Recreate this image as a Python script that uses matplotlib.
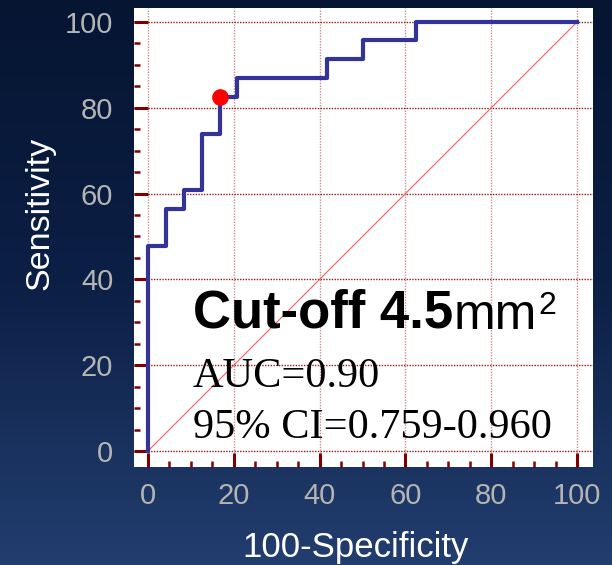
import numpy as np
import matplotlib
matplotlib.use("Agg")
import matplotlib.pyplot as plt
from matplotlib.colors import LinearSegmentedColormap

# ROC curve (23 positives, 24 negatives)
fpr = [0, 0, 4.17, 8.33, 12.5, 16.67, 20.83, 41.67, 50.0, 62.5, 100]
tpr = [0, 47.8, 56.5, 60.9, 73.9, 82.6, 87.0, 91.3, 95.7, 100, 100]
cut_x, cut_y = 16.67, 82.6
ticks = [0, 20, 40, 60, 80, 100]
minor = [v for v in range(0, 101, 5) if v % 20]

plt.rcParams['font.family'] = ['Liberation Sans', 'DejaVu Sans']

fig = plt.figure(figsize=(6.12, 5.65), dpi=100)

# gradient background
bg = fig.add_axes([0, 0, 1, 1], zorder=-10)
cmap = LinearSegmentedColormap.from_list('bg', ['#051532', '#0c1f45', '#223e6f'])
bg.imshow(np.linspace(0, 1, 256).reshape(-1, 1), aspect='auto', cmap=cmap,
          extent=[0, 1, 0, 1])
bg.axis('off')

ax = fig.add_axes([134/612, 98/565, 459/612, 459/565])
ax.set_facecolor('white')
ax.set_xlim(-3.26, 103.7)
ax.set_ylim(-3.73, 103.26)
for s in ax.spines.values():
    s.set_color('none')

ax.set_xticks(ticks)
ax.set_yticks(ticks)
ax.set_xticks(minor, minor=True)
ax.set_yticks(minor, minor=True)
ax.tick_params(which='major', direction='in', length=10, width=2.2, color='#800000',
               labelsize=21, labelcolor='#b4b4b4', pad=15)
ax.tick_params(which='minor', direction='in', length=4.3, width=1.8, color='#800000')
ax.tick_params(axis='x', which='major', pad=10.5)

ax.xaxis.grid(True, color='#a03030', linestyle=(0, (1, 1)), linewidth=1, alpha=0.55)
ax.yaxis.grid(True, color='#8b0000', linestyle=(0, (1, 1)), linewidth=1, alpha=0.9)

ax.plot([0, 100], [0, 100], color='#ff5a5a', linewidth=0.8)
ax.plot(fpr, tpr, drawstyle='steps-post', color='#333399', linewidth=3, zorder=3)
ax.plot([cut_x], [cut_y], 'o', color='red', markersize=11, zorder=4)

t1 = ax.text(10.5, 28.7, 'Cut-off 4.5', fontsize=38, fontweight='bold',
             va='baseline', ha='left', color='black')
t2 = ax.annotate('mm', xy=(1, 0), xycoords=t1, va='bottom', ha='left',
                 fontsize=36, color='black')
ax.annotate('2', xy=(1, 1), xycoords=t2, xytext=(1, 1), textcoords='offset points',
            va='top', ha='left', fontsize=23, color='black')
ax.text(10.4, 14.9, 'AUC=0.90', fontsize=30.5, family='Liberation Serif',
        va='baseline', ha='left', color='black')
ax.text(10.4, 3.0, '95% CI=0.759-0.960', fontsize=30.5, family='Liberation Serif',
        va='baseline', ha='left', color='black')

fig.text(40/612, 1 - 213/565, 'Sensitivity', rotation=90, fontsize=24.5,
         color='white', ha='center', va='center')
fig.text(356/612, 1 - 557/565, '100-Specificity', fontsize=25,
         color='white', ha='center', va='baseline')

fig.savefig('out.png', dpi=100)
